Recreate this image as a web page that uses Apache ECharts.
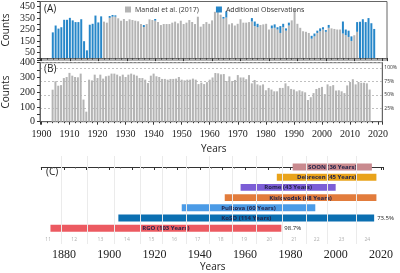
<!DOCTYPE html>
<html><head><meta charset="utf-8">
<script src="https://cdn.jsdelivr.net/npm/echarts@6/dist/echarts.min.js"></script>
<style>html,body{margin:0;padding:0;background:#fff}#c{width:400px;height:273px}</style>
</head><body><div id="c"></div>
<script>
// ---------- DATA ----------
const years = [1904,1905,1906,1907,1908,1909,1910,1911,1912,1913,1914,1915,1916,1917,1918,1919,1920,1921,1922,1923,1924,1925,1926,1927,1928,1929,1930,1931,1932,1933,1934,1935,1936,1937,1938,1939,1940,1941,1942,1943,1944,1945,1946,1947,1948,1949,1950,1951,1952,1953,1954,1955,1956,1957,1958,1959,1960,1961,1962,1963,1964,1965,1966,1967,1968,1969,1970,1971,1972,1973,1974,1975,1976,1977,1978,1979,1980,1981,1982,1983,1984,1985,1986,1987,1988,1989,1990,1991,1992,1993,1994,1995,1996,1997,1998,1999,2000,2001,2002,2003,2004,2005,2006,2007,2008,2009,2010,2011,2012,2013,2014,2015,2016,2017];
// Panel A: Mandal et al. (2017) counts (grey)
const mandal = [0,0,0,0,0,0,0,0,0,0,0,0,0,0,0,0,0,0,319,310,352,362,362,348,327,342,324,339,333,327,322,298,272,298,339,333,328,316,289,298,298,298,310,319,304,327,298,310,333,316,298,362,275,298,315,300,330,405,425,380,345,355,295,305,285,300,340,310,310,315,320,280,270,290,295,300,250,260,265,250,220,270,240,285,330,430,300,265,235,230,220,170,190,220,235,250,230,265,260,255,250,250,215,200,185,150,200,230,0,0,0,0,0,0];
// Panel A: Additional observations (blue, stacked on top)
const additional = [225,285,258,270,335,335,352,330,315,315,340,148,68,292,300,372,312,365,0,0,16,15,12,0,0,0,0,0,0,0,0,0,17,0,0,0,14,0,0,0,0,0,0,0,0,0,0,0,0,0,0,0,0,0,0,0,0,0,0,0,15,55,0,0,0,0,0,0,0,0,30,40,30,0,0,0,0,25,30,20,60,30,20,25,0,0,0,0,0,0,0,25,25,20,25,20,15,25,0,0,0,0,105,50,55,40,0,85,318,340,315,350,305,255];
// Panel B: observing days per year
const days = [217,274,244,248,296,303,331,312,303,301,326,150,68,285,280,319,296,319,292,308,312,326,326,319,308,319,303,319,326,319,312,296,296,285,262,312,326,308,303,290,290,285,290,290,292,303,285,280,285,285,292,285,255,265,255,268,285,300,330,328,321,323,276,307,276,283,316,300,300,288,316,260,283,253,246,253,213,229,218,206,206,229,229,260,241,222,218,206,213,206,199,147,166,194,222,229,236,187,253,241,248,211,213,206,194,246,269,288,253,269,264,264,260,218];
const daysInYear = 365;
// Panel C: observatories
const obsNames = ['SOON (36 Years)','Debrecen (45 Years)','Rome (43 Years)','Kislovodsk (68 Years)','Pulkova (60 Years)','KoSO (114 Years)','RGO (103 Years)'];
const obsStart = [1981,1974,1958,1951,1932,1904,1874];
const obsEnd   = [2016,2018,2000,2018,1991,2017,1976];
const obsPct   = ['','','','','','73.5%','98.7%'];
const obsColors = ['#c98a8f','#e9a31a','#7c5ed6','#e27c3c','#4b9be6','#0b6fb1','#ec5a61'];
// Solar cycles
const cycleStarts = [1878.9,1890.2,1902.0,1913.6,1923.6,1933.8,1944.2,1954.3,1964.9,1976.5,1986.8,1996.4,2008.9];
const cycleLabels = ['11','12','13','14','15','16','17','18','19','20','21','22','23','24'];
const cycleLabelYears = [1873.0,1884.5,1896.1,1907.8,1918.6,1928.7,1939.0,1949.2,1959.6,1970.7,1981.6,1991.6,2002.6,2014.0];
// Year slots of the bar panels (axis categories)
const slotFirst = 1900, slotLast = 2021;

// ---------- CHART ----------
const SERIF = 'Liberation Serif';
const SANS = 'Open Sans';
const GREY = '#b4b4b4';
const BLUE = '#2787c9';
const frame = '#666';

const slots = [];
for (let y = slotFirst; y <= slotLast; y++) slots.push(String(y));

const chart = echarts.init(document.getElementById('c'), null, {renderer:'canvas'});
const pairs = arr => years.map((y,i)=>[String(y), arr[i]]);

const xCommon = {
  type:'value', min:slotFirst-0.5, max:slotLast+0.5, splitNumber:12,
  axisLine:{show:true, lineStyle:{color:frame, width:1}},
  axisTick:{show:true, inside:false, length:3, lineStyle:{color:'#333'}},
  minorTick:{show:true, splitNumber:5, length:1.5, lineStyle:{color:'#333'}},
  splitLine:{show:false}
};

const option = {
  animation:false,
  grid:[
    {left:40, right:13, top:1.5, height:58.5, show:true, borderColor:frame, borderWidth:1},
    {left:40, right:13, top:62.7, height:59, show:true, borderColor:frame, borderWidth:1},
    {left:41.4, right:16.8, top:156, height:88}
  ],
  legend:{
    data:['Mandal et al. (2017)','Additional Observations'],
    left:125, top:6, padding:0, itemWidth:6, itemHeight:6, itemGap:17, icon:'rect',
    textStyle:{fontSize:7, fontFamily:SANS, color:'#333', padding:[0,0,0,-1]}
  },
  xAxis:[
    Object.assign({}, xCommon, {gridIndex:0, axisLabel:{show:false}}),
    Object.assign({}, xCommon, {gridIndex:1, axisLabel:{show:true, margin:8, fontFamily:SERIF, fontSize:10, color:'#222',
      formatter:v=> (Math.abs(v%10)<1e-6 ? String(v) : '')}}),
    {type:'value', gridIndex:2, min:1870, max:2021, splitNumber:15,
      axisLine:{show:true, lineStyle:{color:'#333', width:1.2}},
      axisTick:{show:true, length:3, lineStyle:{color:'#333'}},
      minorTick:{show:true, splitNumber:2, length:1.5, lineStyle:{color:'#555'}},
      splitLine:{show:false},
      axisLabel:{margin:5, fontFamily:SERIF, fontSize:12, color:'#222',
        formatter:v=> (Math.abs(v%20)<1e-6 ? String(v) : '')}},
    {type:'category', gridIndex:0, data:slots, boundaryGap:true, show:false},
    {type:'category', gridIndex:1, data:slots, boundaryGap:true, show:false}
  ],
  yAxis:[
    {type:'value', gridIndex:0, min:-16.5, max:495, splitNumber:10,
      axisLine:{show:true, lineStyle:{color:frame}},
      axisTick:{show:true, length:3, lineStyle:{color:'#333'}},
      splitLine:{show:false},
      axisLabel:{margin:5, fontFamily:SERIF, fontSize:10, color:'#222',
        formatter:v=> (v>0 && Math.abs(v%100-50)<1e-6 ? String(v) : '')}},
    {type:'value', gridIndex:1, min:0, max:400, interval:50,
      axisLine:{show:true, lineStyle:{color:frame}},
      axisTick:{show:true, length:3, lineStyle:{color:'#333'}},
      splitLine:{show:false},
      axisLabel:{margin:5, fontFamily:SERIF, fontSize:10, color:'#222',
        formatter:v=> (Math.abs(v%100)<1e-6 ? String(v) : '')}},
    {type:'value', gridIndex:1, position:'right', min:0, max:400/daysInYear*100, interval:25,
      axisLine:{show:true, lineStyle:{color:frame}},
      axisTick:{show:false},
      splitLine:{show:true, lineStyle:{color:'#b0b0b0', type:[2,2], width:0.8}},
      axisLabel:{margin:2, fontFamily:SANS, fontSize:5, color:'#333',
        formatter:v=> (v>0 && v<=100 && Math.abs(v%25)<1e-6 ? v+'%' : '')}},
    {type:'value', gridIndex:2, min:-1.08, max:7.55, inverse:true, show:false}
  ],
  series:[
    {name:'Mandal et al. (2017)', type:'bar', xAxisIndex:3, yAxisIndex:0, stack:'a', barWidth:2,
      itemStyle:{color:GREY}, data:pairs(mandal)},
    {name:'Additional Observations', type:'bar', xAxisIndex:3, yAxisIndex:0, stack:'a', barWidth:2,
      itemStyle:{color:BLUE}, data:pairs(additional)},
    {name:'days', type:'bar', xAxisIndex:4, yAxisIndex:1, barWidth:2,
      itemStyle:{color:GREY}, data:pairs(days)},
    {name:'obs', type:'custom', xAxisIndex:2, yAxisIndex:3,
      data: obsNames.map((n,i)=>[obsStart[i], obsEnd[i], i]),
      renderItem:function(params, api){
        const i = params.dataIndex;
        const s = api.coord([api.value(0), api.value(2)]);
        const e = api.coord([api.value(1), api.value(2)]);
        const h = Math.abs(api.size([0, 0.68])[1]);
        const ch = [
          {type:'rect', shape:{x:s[0], y:s[1]-h/2, width:e[0]-s[0], height:h}, style:{fill:obsColors[i]}},
          {type:'text', style:{text:obsNames[i], x:(s[0]+e[0])/2, y:s[1]+0.3, align:'center', verticalAlign:'middle',
            fill:'#24244a', font:'bold 6px "Open Sans"'}}
        ];
        if (obsPct[i]) ch.push({type:'text', style:{text:obsPct[i], x:e[0]+3, y:s[1], align:'left', verticalAlign:'middle',
            fill:'#222', font:'6px "Open Sans"'}});
        return {type:'group', children:ch};
      },
      markLine:{silent:true, symbol:'none', animation:false, label:{show:false},
        lineStyle:{color:'#ebebeb', width:1, type:'solid'},
        data: cycleStarts.map(v=>({xAxis:v}))}
    },
    {name:'cycles', type:'scatter', xAxisIndex:2, yAxisIndex:3, symbolSize:0, silent:true,
      data: cycleLabelYears.map((v,i)=>[v, 7.1, cycleLabels[i]]),
      label:{show:true, position:'inside', formatter:p=>p.data[2], fontSize:5, fontFamily:SANS, color:'#9a9a9a'}}
  ],
  graphic:[
    {type:'text', left:44, top:4, style:{text:'(A)', font:'10px "Open Sans"', fill:'#222'}},
    {type:'text', left:44, top:64, style:{text:'(B)', font:'10px "Open Sans"', fill:'#222'}},
    {type:'text', x:6, y:30, rotation:Math.PI/2, style:{text:'Counts', font:'10px "Open Sans"', fill:'#222', align:'center', verticalAlign:'middle'}},
    {type:'text', x:6, y:92, rotation:Math.PI/2, style:{text:'Counts', font:'10px "Open Sans"', fill:'#222', align:'center', verticalAlign:'middle'}},
    {type:'text', left:201, top:144, style:{text:'Years', font:'10px "Open Sans"', fill:'#222'}},
    {type:'text', left:46, top:167, style:{text:'(C)', font:'10px "Open Sans"', fill:'#222'}},
    {type:'text', left:200, top:262, style:{text:'Years', font:'10px "Open Sans"', fill:'#222'}}
  ]
};
chart.setOption(option);
</script></body></html>
